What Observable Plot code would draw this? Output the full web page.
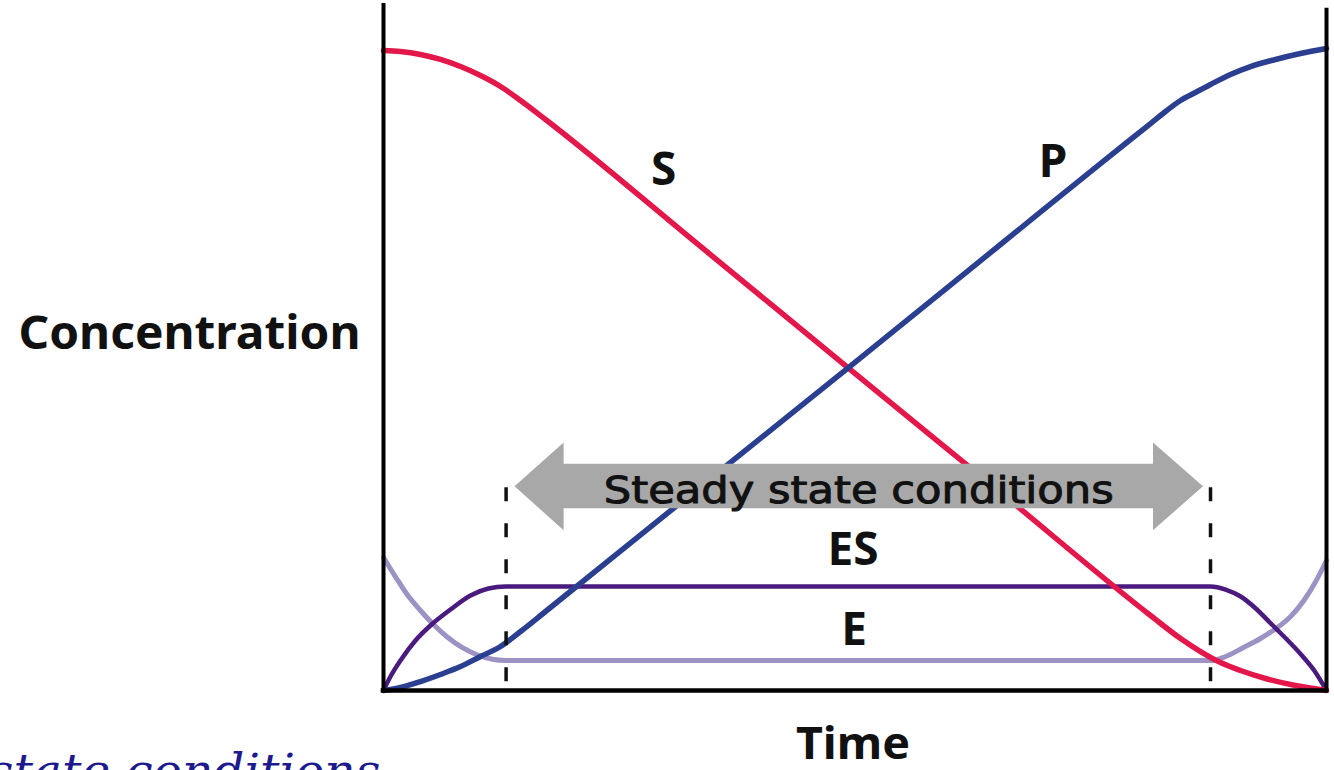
<!DOCTYPE html>
<html><head><meta charset="utf-8">
<script src="https://cdn.jsdelivr.net/npm/d3@7"></script>
<script src="https://cdn.jsdelivr.net/npm/@observablehq/plot@0.6"></script>
<style>html,body{margin:0;padding:0;background:#fff;overflow:hidden;}</style>
</head><body><div id="chart"></div>
<script>
// Substrate S
const sTime = [0, 1.8, 3.92, 6.04, 8.17, 10.29, 12.41, 14.53, 17.18, 33.62, 49.31, 65.43, 81.34, 84.52, 86.64, 88.76, 90.88, 93.53, 96.71, 100];
const sConc = [93.43, 93.28, 92.85, 92.12, 91.09, 89.78, 88.18, 86.13, 83.36, 64.82, 47.08, 28.91, 10.95, 7.59, 5.69, 4.09, 2.92, 1.75, 0.73, 0];
// Product P
const pTime = [0, 1.8, 3.92, 6.04, 8.17, 10.29, 12.41, 14.53, 17.18, 33.62, 49.31, 65.43, 76.03, 81.34, 82.93, 84.52, 86.11, 87.7, 89.82, 91.94, 94.59, 97.24, 100];
const pConc = [0, 0.44, 1.31, 2.34, 3.5, 4.96, 6.42, 8.61, 11.53, 29.78, 47.15, 65.11, 76.93, 82.77, 84.53, 86.13, 87.3, 88.47, 89.93, 91.09, 92.12, 92.99, 93.72];
// Enzyme-substrate complex ES
const esTime = [0, 0.74, 1.8, 3.39, 4.98, 7.1, 9.23, 11.13, 12.94, 87.7, 89.3, 90.9, 92.5, 94.1, 95.7, 97.3, 98.7, 100];
const esConc = [0, 2.04, 4.38, 7.3, 9.49, 11.82, 13.87, 14.89, 15.18, 15.18, 14.74, 13.72, 11.97, 9.78, 7.59, 5.26, 2.92, 0];
// Free enzyme E
const eTime = [0, 1.27, 2.55, 3.92, 5.3, 6.79, 8.38, 9.97, 11.56, 12.94, 87.7, 89.3, 91.2, 93.0, 94.8, 96.2, 97.6, 98.8, 100];
const eConc = [19.42, 16.6, 13.93, 11.68, 9.64, 7.78, 6.25, 5.18, 4.55, 4.38, 4.38, 4.96, 6.28, 7.59, 9.2, 10.8, 13.14, 15.77, 18.98];
// Steady state window
const steadyBounds = [13, 87.7];
const steadyTop = 29.6;
// Double arrow outline (time, concentration)
const arrowTime = [13.9, 19.1, 19.1, 81.6, 81.6, 86.9, 81.6, 81.6, 19.1, 19.1];
const arrowConc = [29.8, 36.2, 33.1, 33.1, 36.2, 29.8, 23.4, 26.6, 26.6, 23.4];
// Curve labels
const labels = [
  {t: 29.7, c: 75.9, text: "S"},
  {t: 71.0, c: 77.1, text: "P"},
  {t: 49.8, c: 20.4, text: "ES"},
  {t: 49.9, c: 8.8, text: "E"}
];
const steadyLabel = {t: 50.4, c: 29.2, text: "Steady state conditions"};

const rows = (t, c) => t.map((v, i) => ({t: v, c: c[i]}));
const FONT = "'Noto Sans', 'Open Sans', sans-serif";

const chart = Plot.plot({
  width: 1334, height: 770,
  marginLeft: 383, marginRight: 8, marginTop: 5, marginBottom: 80,
  x: {domain: [0, 100], axis: null},
  y: {domain: [0, 100], axis: null},
  style: {background: "white"},
  marks: [
    Plot.line(rows(eTime, eConc), {x: "t", y: "c", curve: "monotone-x", stroke: "#9d92c4", strokeWidth: 5}),
    Plot.line(rows(esTime, esConc), {x: "t", y: "c", curve: "monotone-x", stroke: "#4a1a7e", strokeWidth: 4.5}),
    Plot.line(rows(sTime, sConc), {x: "t", y: "c", curve: "monotone-x", stroke: "#e3174a", strokeWidth: 5.5}),
    Plot.line(rows(pTime, pConc), {x: "t", y: "c", curve: "monotone-x", stroke: "#2b3f91", strokeWidth: 5.5}),
    Plot.line(rows(arrowTime, arrowConc), {x: "t", y: "c", curve: "linear-closed", fill: "#a8a8a8", stroke: "none"}),
    Plot.ruleX(steadyBounds, {y1: steadyTop, y2: 0, stroke: "#111", strokeWidth: 3.5, strokeDasharray: "14,22"}),
    // axes frame (left, right, bottom)
    Plot.ruleX([0], {y1: 0, y2: 100, stroke: "#000", strokeWidth: 4, strokeLinecap: "square"}),
    Plot.ruleX([100], {y1: 0, y2: 99.3, stroke: "#000", strokeWidth: 4, strokeLinecap: "square"}),
    Plot.ruleY([0], {x1: 0, x2: 100, stroke: "#000", strokeWidth: 4.5, strokeLinecap: "square"}),
    Plot.text(labels, {x: "t", y: "c", text: "text", fontFamily: FONT, fontWeight: "bold", fontSize: 46, fill: "#111", textAnchor: "middle", lineAnchor: "middle"}),
    Plot.text([steadyLabel], {x: "t", y: "c", text: "text", fontFamily: "'DejaVu Sans', sans-serif", fontSize: 38, fill: "#111", stroke: "#111", strokeWidth: 1, textAnchor: "middle", lineAnchor: "middle"}),
    Plot.text(["Concentration"], {frameAnchor: "left", dx: -194, dy: -14, text: d => d, fontFamily: FONT, fontWeight: "bold", fontSize: 47, fill: "#111", textAnchor: "middle", lineAnchor: "middle"}),
    Plot.text(["Time"], {frameAnchor: "bottom", dx: -2, dy: 54, text: d => d, fontFamily: FONT, fontWeight: "bold", fontSize: 45, fill: "#111", textAnchor: "middle", lineAnchor: "middle"}),
    Plot.text(["state conditions"], {frameAnchor: "bottom-left", dx: -395, dy: 96, text: d => d, fontFamily: "'DejaVu Serif', serif", fontStyle: "italic", fontSize: 46, fill: "#1c1a8e", textAnchor: "start", lineAnchor: "bottom"})
  ]
});

const fit = {"Steady state conditions": 510, "Concentration": 342, "Time": 114, "state conditions": 392};
chart.querySelectorAll("text").forEach(el => {
  const w = fit[el.textContent];
  if (w) { el.setAttribute("textLength", w); el.setAttribute("lengthAdjust", "spacingAndGlyphs"); }
});
document.getElementById("chart").appendChild(chart);
</script>
</body></html>
